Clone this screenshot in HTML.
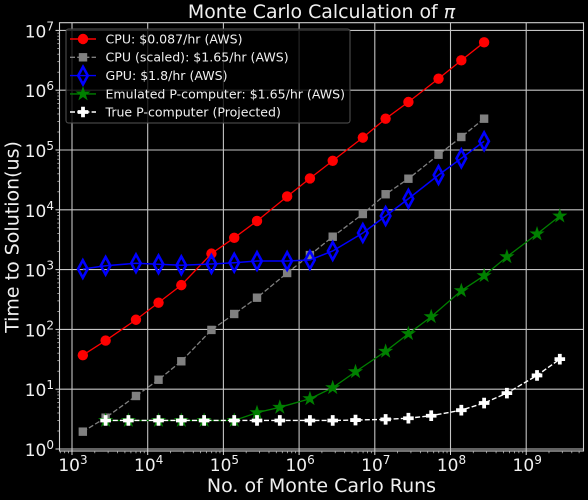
<!DOCTYPE html>
<html>
<head>
<meta charset="utf-8">
<style>
html,body{margin:0;padding:0;background:#000;width:588px;height:500px;overflow:hidden}
svg{display:block;filter:blur(0.35px)}
text{font-family:"DejaVu Sans","Liberation Sans",sans-serif;fill:#f0f0f0}
</style>
</head>
<body>
<svg id="chart" xmlns="http://www.w3.org/2000/svg" width="588" height="500" viewBox="0 0 588 500">
  <rect x="0" y="0" width="588" height="500" fill="#000"/>
  <g id="grid"></g>
  <g id="series"></g>
  <rect x="59.5" y="22.7" width="524" height="428.3" fill="none" stroke="#d0d0d0" stroke-width="1.1"/>
  <g id="ticks"></g>
  <g id="legend"></g>
  <text x="321.5" y="18" font-size="18.9" text-anchor="middle">Monte Carlo Calculation of <tspan font-style="italic">π</tspan></text>
  <text x="321.5" y="492" font-size="19" text-anchor="middle">No. of Monte Carlo Runs</text>
  <text x="0" y="0" font-size="19" text-anchor="middle" transform="translate(18.5,237) rotate(-90)">Time to Solution(us)</text>
</svg>
<script>
const xTickExponents = [3, 4, 5, 6, 7, 8, 9];
const yTickExponents = [0, 1, 2, 3, 4, 5, 6, 7];
const xMain = [1390, 2780, 7000, 13900, 27800, 69500, 139000, 278000, 695000, 1390000, 2780000, 6950000, 13900000, 27800000, 69500000, 139000000, 278000000];
const xPbit = [2780, 5560, 13900, 27800, 55600, 139000, 278000, 556000, 1390000, 2780000, 5560000, 13900000, 27800000, 55600000, 139000000, 278000000, 556000000, 1390000000, 2780000000];
const cpuValues = [37, 65, 145, 280, 550, 1850, 3400, 6500, 16700, 33500, 66000, 161000, 334000, 635000, 1560000, 3160000, 6320000];
const cpuScaledValues = [1.95, 3.34, 7.7, 14.4, 29.3, 98, 181, 339, 877, 1750, 3550, 8500, 18200, 33100, 83400, 165000, 334000];
const gpuValues = [1023, 1160, 1275, 1227, 1180, 1240, 1305, 1392, 1392, 1450, 2050, 4090, 7880, 15300, 38200, 72600, 140000];
const emulatedValues = [3, 3, 3, 3, 3, 3, 4.05, 4.98, 6.93, 10.6, 19.6, 43, 84.7, 163, 444, 791, 1640, 3940, 7870];
const trueValues = [3, 3, 3, 3, 3, 3, 3, 3, 3, 3, 3.05, 3.13, 3.27, 3.6, 4.46, 5.87, 8.6, 17, 31.8];
const legendLabels = ["CPU: $0.087/hr (AWS)", "CPU (scaled): $1.65/hr (AWS)", "GPU: $1.8/hr (AWS)", "Emulated P-computer: $1.65/hr (AWS)", "True P-computer (Projected)"];

const NS = "http://www.w3.org/2000/svg";
const X0 = 72, XD = 75.7, Y0 = 449, YD = 59.8;
const L = 59.5, R = 583.5, T = 22.7, B = 451;
function xScale(v) { return X0 + (Math.log10(v) - 3) * XD; }
function yScale(v) { return Y0 - Math.log10(v) * YD; }
function make(tag, attrs, parent) {
  const n = document.createElementNS(NS, tag);
  for (const k in attrs) n.setAttribute(k, attrs[k]);
  parent.appendChild(n);
  return n;
}
const gridG = document.getElementById("grid");
const ticksG = document.getElementById("ticks");
const seriesG = document.getElementById("series");
const legendG = document.getElementById("legend");

function tickLabel(parent, x, y, anchor, exp) {
  const t = make("text", { x: x, y: y, "font-size": 17, "text-anchor": anchor }, parent);
  t.textContent = "10";
  const s = make("tspan", { "font-size": 12, dy: -7 }, t);
  s.textContent = String(exp);
  return t;
}
xTickExponents.forEach(function (e) {
  const x = xScale(Math.pow(10, e));
  const g = make("line", { x1: x, x2: x, y1: T, y2: B, stroke: "#c4c4c4", "stroke-width": 1.1 }, gridG);
  
  
  make("line", { x1: x, x2: x, y1: B, y2: B + 4, stroke: "#ddd", "stroke-width": 1 }, ticksG);
  const t = tickLabel(ticksG, x + 1, 471, "middle", e);
  
  
});
for (let e = 2; e <= 9; e++) {
  for (let m = 2; m <= 9; m++) {
    const x = xScale(m * Math.pow(10, e));
    if (x < L || x > R) continue;
    make("line", { x1: x, x2: x, y1: B, y2: B + 2.2, stroke: "#bbb", "stroke-width": 0.8 }, ticksG);
  }
}
yTickExponents.forEach(function (e) {
  const y = yScale(Math.pow(10, e));
  const g = make("line", { x1: L, x2: R, y1: y, y2: y, stroke: "#c4c4c4", "stroke-width": 1.1 }, gridG);
  
  
  make("line", { x1: L - 4, x2: L, y1: y, y2: y, stroke: "#ddd", "stroke-width": 1 }, ticksG);
  const t = tickLabel(ticksG, 54, y + 7, "end", e);
  
  
});
for (let e = 0; e <= 7; e++) {
  for (let m = 2; m <= 9; m++) {
    const y = yScale(m * Math.pow(10, e));
    if (y < T || y > B) continue;
    make("line", { x1: L - 2.2, x2: L, y1: y, y2: y, stroke: "#bbb", "stroke-width": 0.8 }, ticksG);
  }
}

function circleMark(p, x, y) { return make("circle", { cx: x, cy: y, r: 5.2, fill: "#f00" }, p); }
function squareMark(p, x, y) { return make("rect", { x: x - 4.2, y: y - 4.2, width: 8.4, height: 8.4, fill: "#808080" }, p); }
function diamondMark(p, x, y) {
  const w = 4.8, h = 8.8;
  return make("polygon", { points: [x, y - h, x + w, y, x, y + h, x - w, y].join(","), fill: "none", stroke: "#00f", "stroke-width": 2.6 }, p);
}
function starMark(p, x, y) {
  const pts = [];
  for (let i = 0; i < 10; i++) {
    const r = i % 2 ? 2.7 : 7;
    const a = -Math.PI / 2 + i * Math.PI / 5;
    pts.push((x + r * Math.cos(a)).toFixed(2) + "," + (y + r * Math.sin(a)).toFixed(2));
  }
  return make("polygon", { points: pts.join(" "), fill: "#008000", stroke: "#008000", "stroke-width": 0.6 }, p);
}
function plusMark(p, x, y) {
  const a = 5.3, b = 1.9;
  const pts = [[-b,-a],[b,-a],[b,-b],[a,-b],[a,b],[b,b],[b,a],[-b,a],[-b,b],[-a,b],[-a,-b],[-b,-b]];
  return make("polygon", { points: pts.map(function (q) { return (x + q[0]) + "," + (y + q[1]); }).join(" "), fill: "#fff" }, p);
}

function drawSeries(xs, ys, color, dash, marker, width) {
  const g = make("g", {}, seriesG);
  const d = xs.map(function (v, i) { return xScale(v).toFixed(2) + "," + yScale(ys[i]).toFixed(2); }).join(" ");
  const attrs = { points: d, fill: "none", stroke: color, "stroke-width": width };
  if (dash) attrs["stroke-dasharray"] = dash;
  make("polyline", attrs, g);
  xs.forEach(function (v, i) { marker(g, xScale(v), yScale(ys[i])); });
  return g;
}
const s1 = drawSeries(xMain, cpuValues, "#f00", null, circleMark, 1.3);


const s2 = drawSeries(xMain, cpuScaledValues, "#808080", "5,2.2", squareMark, 1.3);


const s3 = drawSeries(xMain, gpuValues, "#00f", null, diamondMark, 1.5);


const s4 = drawSeries(xPbit, emulatedValues, "#008000", null, starMark, 1.3);


const s5 = drawSeries(xPbit, trueValues, "#fff", "5,2.2", plusMark, 1.4);



const box = make("rect", { x: 66, y: 29, width: 284, height: 94, rx: 2.5, fill: "#000", "fill-opacity": 0.8, stroke: "#555", "stroke-width": 1 }, legendG);


const rowY = [39, 57.3, 75.6, 93.9, 112];
const rowColor = ["#f00", "#808080", "#00f", "#008000", "#fff"];
const rowDash = [null, "5,2.2", null, null, "5,2.2"];
const rowMark = [circleMark, squareMark, diamondMark, starMark, plusMark];
legendLabels.forEach(function (label, i) {
  const g = make("g", {}, legendG);
  
  
  const a = { x1: 70, x2: 96, y1: rowY[i], y2: rowY[i], stroke: rowColor[i], "stroke-width": 1.4 };
  if (rowDash[i]) a["stroke-dasharray"] = rowDash[i];
  make("line", a, g);
  rowMark[i](g, 83, rowY[i]);
  const t = make("text", { x: 105.5, y: rowY[i] + 4.4, "font-size": 12.55 }, g);
  t.textContent = label;
});
</script>
</body>
</html>
